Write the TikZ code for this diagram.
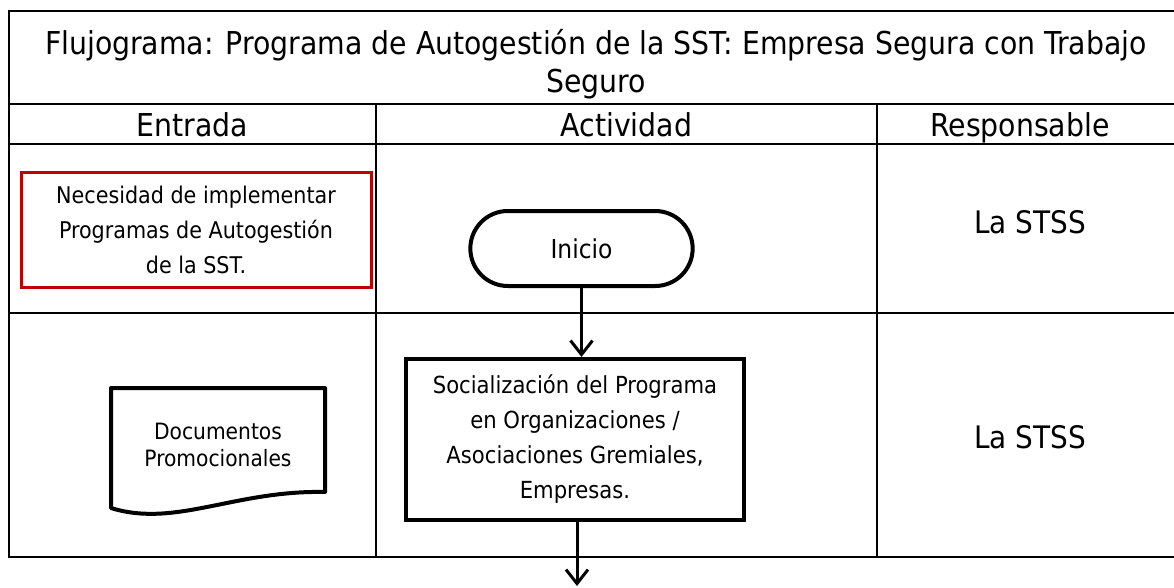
\documentclass[tikz,border=0pt]{standalone}
\usepackage{fontspec}
\setmainfont{DejaVu Sans Condensed}
\usepackage{tikz}
\usetikzlibrary{arrows.meta,positioning,shapes.misc,calc}
\usepackage{xcolor}
\definecolor{rojo}{HTML}{C00000}

\begin{document}
\begin{tikzpicture}[
x=1pt,y=-1pt,
tbl/.style={line width=2pt},
head/.style={font=\fontsize{31.5}{38}\selectfont,align=center},
resp/.style={font=\fontsize{31}{36}\selectfont,anchor=base},
need/.style={rectangle,draw=rojo,line width=3pt,minimum width=350pt,minimum height=115pt,align=center,font=\fontsize{23}{35}\selectfont},
term/.style={rounded rectangle,draw,line width=4pt,minimum width=229pt,minimum height=75pt,font=\fontsize{26}{30}\selectfont},
proc/.style={rectangle,draw,line width=4pt,minimum width=338pt,minimum height=161pt,align=center,font=\fontsize{23.5}{35}\selectfont},
doctxt/.style={align=center,font=\fontsize{22.5}{27}\selectfont},
arr/.style={-{Straight Barb[length=14pt,width=22pt]},line width=3pt}
]
\useasboundingbox (0,0) rectangle (1174,588);

% table
\draw[tbl] (9,11) -- (1182,11) -- (1182,557) -- (9,557) -- cycle;
\draw[tbl] (9,104) -- (1182,104);
\draw[tbl] (9,144) -- (1182,144);
\draw[tbl] (9,313) -- (1182,313);
\draw[tbl] (376,104) -- (376,557);
\draw[tbl] (877,104) -- (877,557);

\node[head] (title) at (596,64) {Flujograma: Programa de Autogestión de la SST: Empresa Segura con Trabajo\\Seguro};
\node[head,anchor=base] (hin) at (192.5,137) {Entrada};
\node[head,anchor=base] (hact) at (626.5,137) {Actividad};
\node[head,anchor=base] (hres) at (1020,137) {Responsable};

% row 1
\node[need] (need) at (196,230) {Necesidad de implementar\\Programas de Autogestión\\de la SST.};
\node[term] (inicio) at (581.5,248.5) {Inicio};
\node[resp] (resp1) at (1030,233) {La STSS};

% row 2
\draw[line width=4pt,line join=round] (111,508) -- (111,388) -- (325,388) -- (325,492)
  .. controls (235,490) and (175,528) .. (111,508) -- cycle;
\node[doctxt] (promo) at (218,445) {Documentos\\Promocionales};
\node[proc] (social) at (575,439.5) {Socialización del Programa\\en Organizaciones /\\Asociaciones Gremiales,\\Empresas.};
\node[resp] (resp2) at (1030,448) {La STSS};
\coordinate (next) at (577,586);

\draw[arr] (inicio.south) -- (inicio.south |- social.north);
\draw[arr] (social.south -| next) -- (next);
\end{tikzpicture}
\end{document}
